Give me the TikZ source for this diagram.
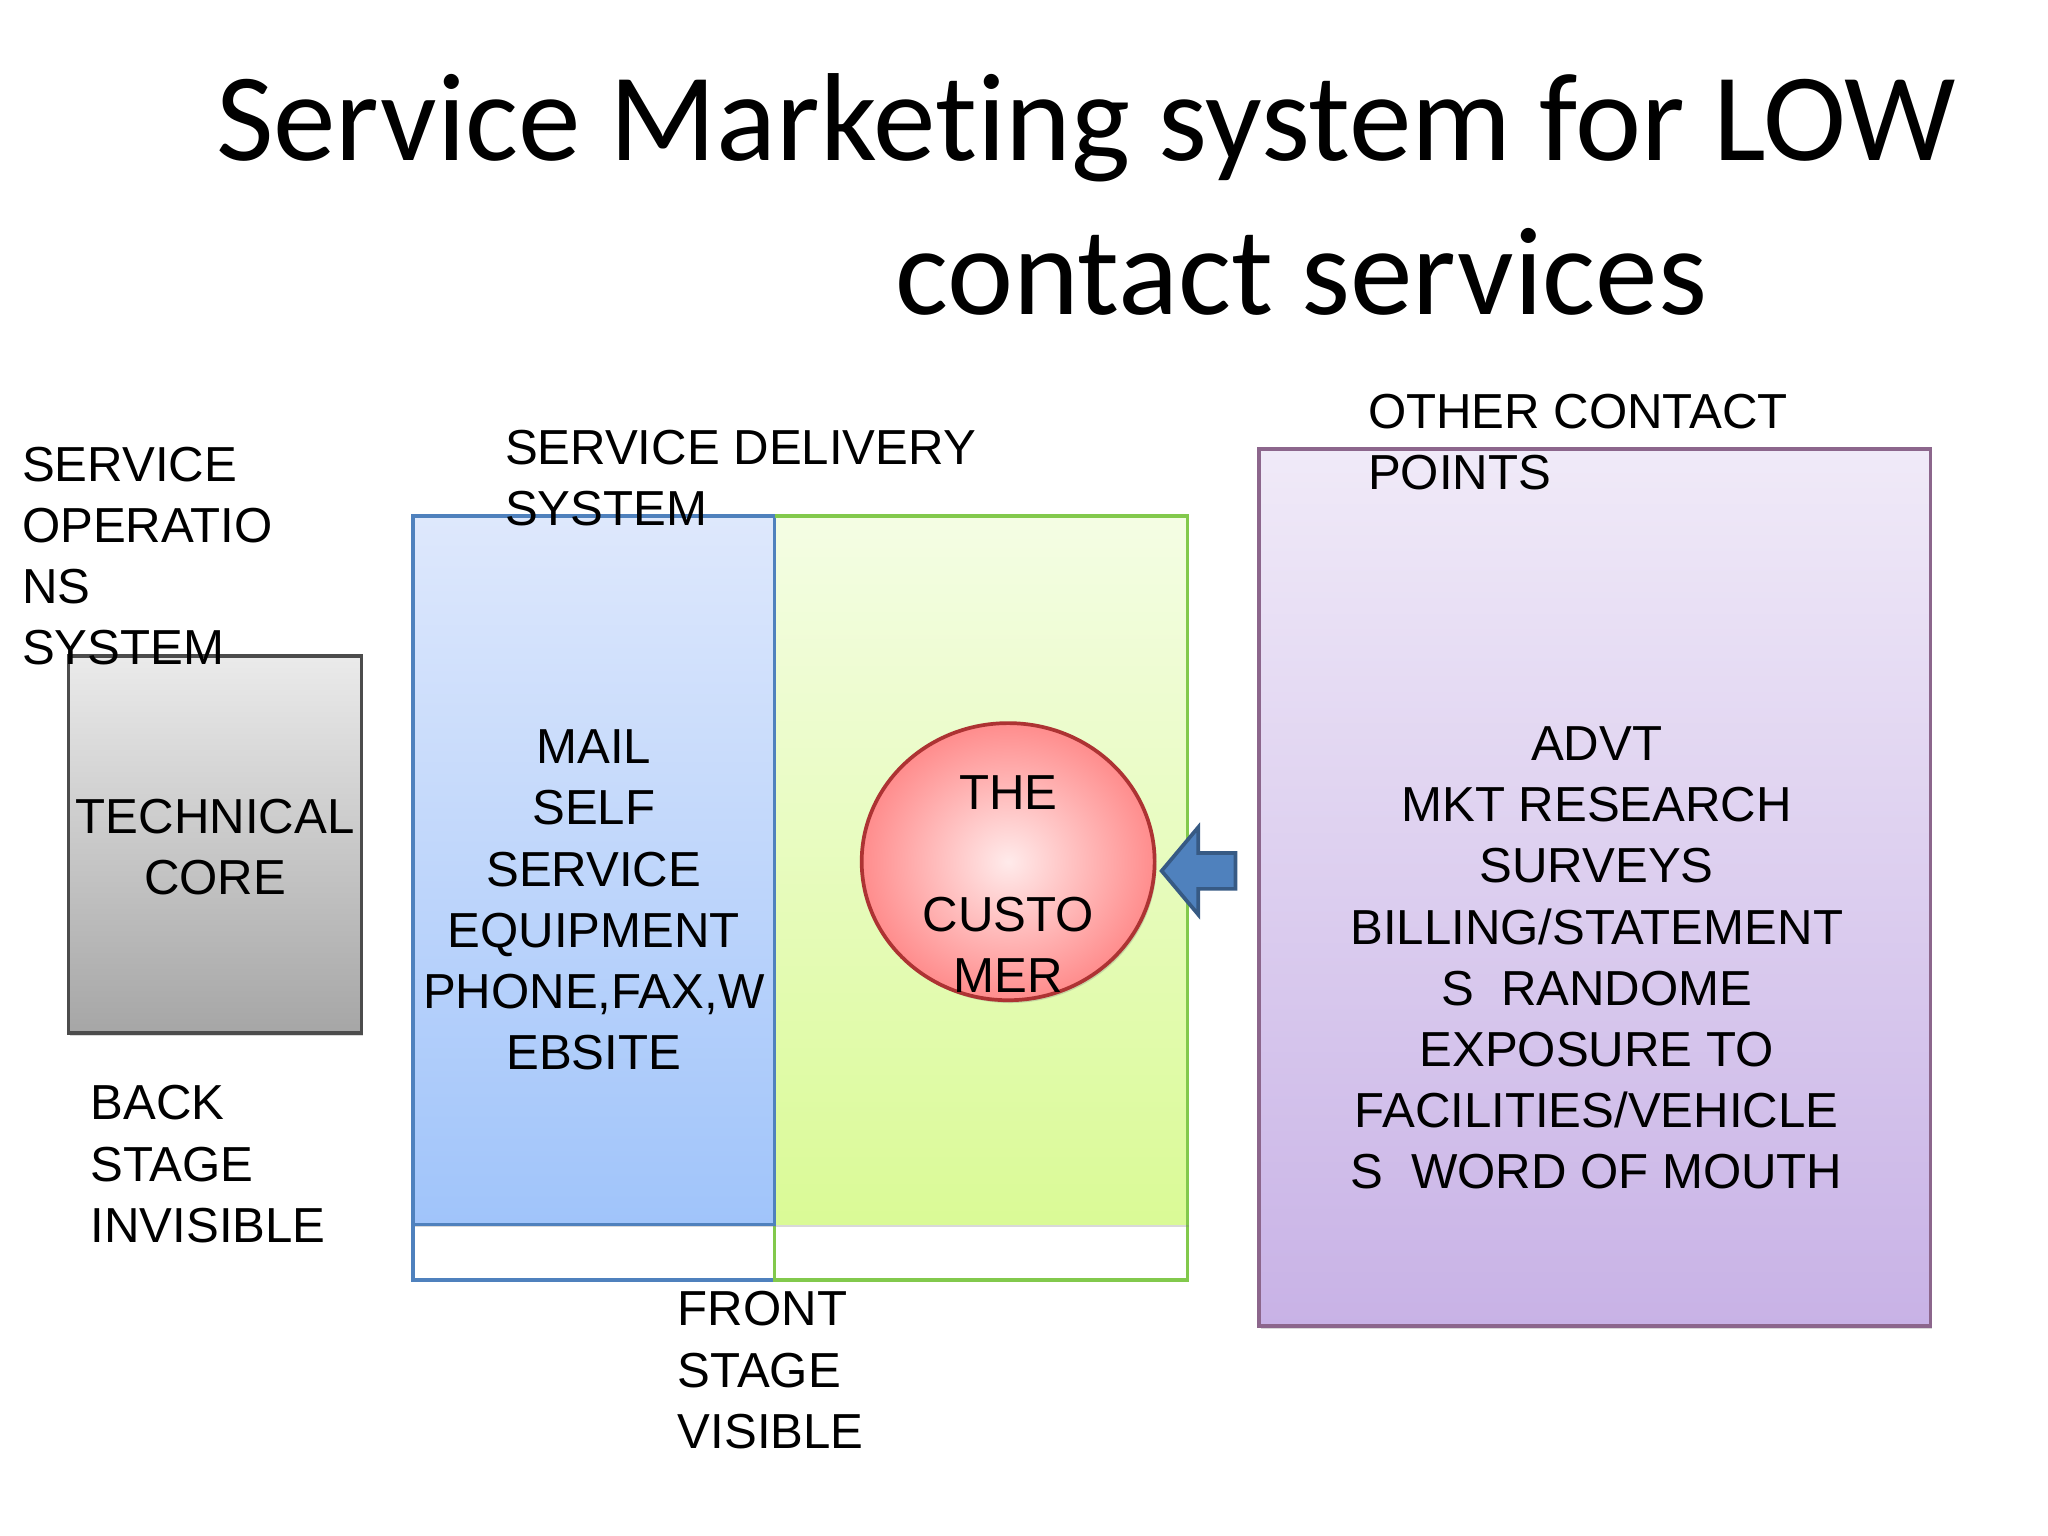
\documentclass[tikz,border=0pt]{standalone}
\usepackage{fontspec}
\setmainfont{Liberation Sans}
\newfontfamily\titlefont[Ligatures={NoCommon}]{Carlito}
\usetikzlibrary{shapes.arrows,shadows}
\definecolor{bluetop}{RGB}{222,232,252}
\definecolor{bluebot}{RGB}{160,196,250}
\definecolor{greentop}{RGB}{244,253,228}
\definecolor{greenbot}{RGB}{218,250,150}
\definecolor{purptop}{RGB}{240,234,248}
\definecolor{purpbot}{RGB}{200,178,230}
\definecolor{arrowblue}{RGB}{79,129,189}
\begin{document}
\begin{tikzpicture}[x=1cm,y=-1cm,
  txt/.style={font=\fontsize{10.6}{13.2}\selectfont, align=center, inner sep=0pt},
  ltxt/.style={txt, align=left},
  box/.style={line width=0.8pt, drop shadow={opacity=0.3, shadow xshift=0.4pt, shadow yshift=-0.6pt}}]
\useasboundingbox (0,0) rectangle (15.52,11.64);
% title
\node[font=\titlefont\fontsize{27}{31}\selectfont, anchor=base] (t1) at (8.23,1.22) {Service Marketing system for LOW};
\node[font=\titlefont\fontsize{27}{31}\selectfont, anchor=base] (t2) at (9.86,2.38) {contact services};
% technical core
\draw[box, black!70, top color=black!8, bottom color=black!35] (0.52,4.97) rectangle (2.74,7.83);
\node[txt] (core) at (1.63,6.42) {TECHNICAL\\CORE};
\node[ltxt, anchor=north west] (sos) at (0.16,3.38) {SERVICE\\OPERATIO\\NS\\SYSTEM};
\node[ltxt, anchor=north west] (back) at (0.68,8.22) {BACK\\STAGE\\INVISIBLE};
% delivery system
\draw[line width=0.8pt, arrowblue] (3.13,3.91) rectangle (5.87,9.70);
\draw[line width=0.8pt, green!40!olive!70] (5.87,3.91) rectangle (9.00,9.70);
\draw[box, draw=none, top color=bluetop, bottom color=bluebot] (3.13,3.91) rectangle (5.87,9.28);
\draw[box, draw=none, top color=greentop, bottom color=greenbot] (5.87,3.91) rectangle (9.00,9.28);
\draw[line width=0.8pt, arrowblue] (3.13,3.91) rectangle (5.87,9.28);
\draw[line width=0.8pt, green!40!olive!70] (5.87,3.91) -- (9.00,3.91) -- (9.00,9.28);
\node[ltxt, anchor=north west] (sds) at (3.82,3.25) {SERVICE DELIVERY\\SYSTEM};
\node[txt] (mail) at (4.50,6.82) {MAIL\\SELF\\SERVICE\\EQUIPMENT\\PHONE,FAX,W\\EBSITE};
\draw[box, red!60!black!80, inner color=red!8, outer color=red!45] (7.64,6.53) ellipse (1.11 and 1.05);
\node[txt] (cust) at (7.64,6.70) {THE\\\\CUSTO\\MER};
\node[ltxt, anchor=north west] (front) at (5.13,9.78) {FRONT\\STAGE\\VISIBLE};
% other contact points
\draw[box, violet!50!black!60, top color=purptop, bottom color=purpbot] (9.54,3.40) rectangle (14.63,10.05);
\node[ltxt, anchor=north west] (ocp) at (10.36,2.98) {OTHER CONTACT\\POINTS};
\node[txt] (advt) at (12.10,7.26) {ADVT\\MKT RESEARCH\\SURVEYS\\BILLING/STATEMENT\\S\ \ RANDOME\\EXPOSURE TO\\FACILITIES/VEHICLE\\S\ \ WORD OF MOUTH};
\node[single arrow, shape border rotate=180, draw=arrowblue!70!black, line width=0.8pt, fill=arrowblue,
  minimum width=0.66cm, minimum height=0.56cm, single arrow head extend=0.02cm, single arrow tip angle=100, inner sep=0pt] (arr) at (9.14,6.60) {};
\end{tikzpicture}
\end{document}
